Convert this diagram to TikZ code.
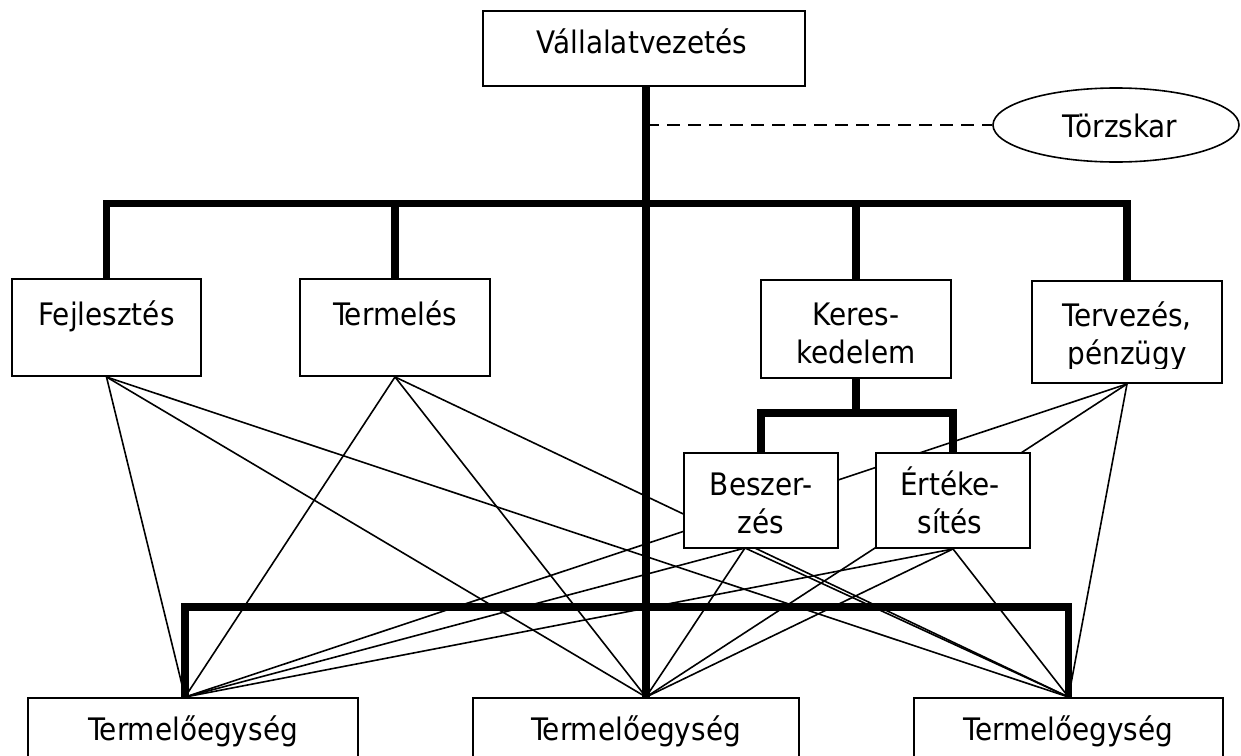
\documentclass[tikz,border=0pt]{standalone}
\usepackage{fontspec}
\setmainfont{DejaVu Sans Condensed}
\usetikzlibrary{shapes.geometric}
\pgfdeclarelayer{bg}
\pgfsetlayers{bg,main}
\begin{document}
\begin{tikzpicture}[x=1pt,y=-1pt,
  box/.style={draw=black, line width=1.9pt, fill=white, rectangle, inner sep=0pt},
  lbl/.style={inner sep=0pt, anchor=base, font=\fontsize{31}{38}\selectfont, align=center},
  bar/.style={line width=7.5pt, line join=miter, line cap=butt},
  thinline/.style={line width=1.6pt},
  dashline/.style={line width=1.6pt, dash pattern=on 13pt off 8pt}]
\useasboundingbox (0,0) rectangle (1241,755);
\clip (0,0) rectangle (1241,755);

% boxes
\node[box, minimum width=322pt, minimum height=75pt] (top) at (644,48.5) {};
\node[lbl] at (642,53) {Vállalatvezetés};

\node[draw=black, line width=1.6pt, fill=white, ellipse, inner sep=0pt,
      minimum width=246pt, minimum height=74pt] (tk) at (1116,125) {};
\node[lbl] at (1120,137) {Törzskar};

\node[box, minimum width=189pt, minimum height=97pt] (fej) at (106.5,327.5) {};
\node[lbl] at (106.5,325) {Fejlesztés};

\node[box, minimum width=190pt, minimum height=97pt] (term) at (395,327.5) {};
\node[lbl] at (395,325) {Termelés};

\node[box, minimum width=190pt, minimum height=98pt] (keres) at (856,329) {};
\node[lbl] at (856,363) {Keres-\\kedelem};

\node[box, minimum width=190pt, minimum height=102pt] (terv) at (1127,332) {};
\begin{scope}
\clip (1032,281) rectangle (1222,368);
\node[lbl] at (1127,364) {Tervezés,\\pénzügy};
\end{scope}

\node[box, minimum width=154pt, minimum height=95pt] (besz) at (761,500.5) {};
\node[lbl] at (761,533) {Beszer-\\zés};

\node[box, minimum width=154pt, minimum height=95pt] (ert) at (953,500.5) {};
\node[lbl] at (950,533) {Értéke-\\sítés};

\node[box, minimum width=330pt, minimum height=110pt] (tu1) at (193,753) {};
\node[lbl] at (193,740) {Termelőegység};
\node[box, minimum width=326pt, minimum height=110pt] (tu2) at (636,753) {};
\node[lbl] at (636,740) {Termelőegység};
\node[box, minimum width=309pt, minimum height=110pt] (tu3) at (1068.5,753) {};
\node[lbl] at (1068.5,740) {Termelőegység};

% anchor points
\coordinate (tr) at (646,86);
\coordinate (P1) at ([xshift=-8pt]tu1.north);
\coordinate (P2) at (tr |- tu2.north);
\coordinate (P3) at (tu3.north);
\coordinate (topbar) at (0,203.5);
\coordinate (subbar) at (0,413);
\coordinate (botbar) at (0,607);
\coordinate (fejS) at (fej.south);
\coordinate (termS) at (term.south);
\coordinate (tervS) at (terv.south);
\coordinate (beszS) at (745,548);
\coordinate (ertS) at (ert.south);

\begin{pgfonlayer}{bg}
\foreach \s in {fejS,termS,tervS,beszS,ertS}
  \foreach \t in {P1,P2,P3}
    \draw[thinline] (\s) -- (\t);
\end{pgfonlayer}

% thick tree
\draw[bar] (tr) -- (P2);
\draw[bar] (fej.north) -- (fej.north |- topbar) -- (terv.north |- topbar) -- (terv.north);
\draw[bar] (term.north |- topbar) -- (term.north);
\draw[bar] (keres.north |- topbar) -- (keres.north);
\draw[bar] (keres.south) -- (keres.south |- subbar);
\draw[bar] (besz.north) -- (besz.north |- subbar) -- (ert.north |- subbar) -- (ert.north);
\draw[bar] (P1) -- (P1 |- botbar) -- (P3 |- botbar) -- (P3);

% staff link
\draw[dashline] (tr |- tk.west) -- (tk.west);
\end{tikzpicture}
\end{document}
